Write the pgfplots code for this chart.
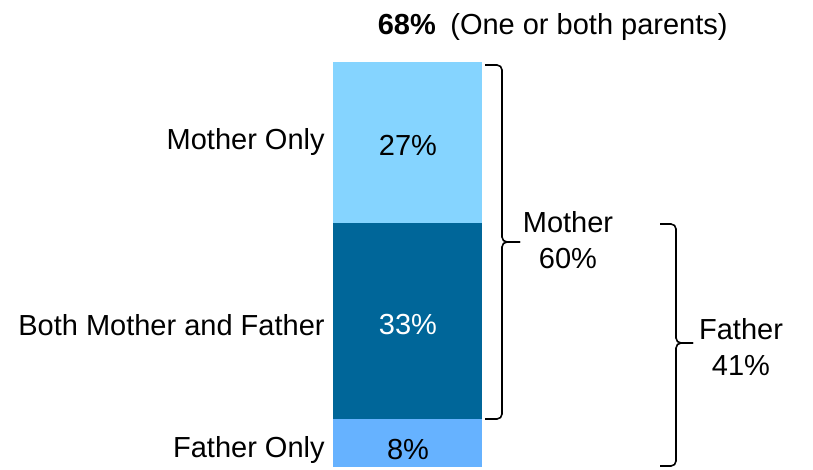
\documentclass[border=0pt]{standalone}
\usepackage{fontspec}
\setmainfont{Liberation Sans}
\usepackage{pgfplots}
\pgfplotsset{compat=1.18}
\definecolor{cMother}{HTML}{85D4FF}
\definecolor{cBoth}{HTML}{006699}
\definecolor{cFather}{HTML}{66B2FF}
\newcommand{\px}[2]{(axis cs:#1,{(467-#2)/5.956})}
\pgfplotsset{base/.style={
  scale only axis,
  width=406.5pt, height=234.5pt,
  xmin=0, xmax=813,
  ymin=-0.3358, ymax=78.408,
  hide axis, clip=false,
}}
\begin{document}
\begin{tikzpicture}[font=\fontsize{14.5}{17}\selectfont]
\begin{axis}[base,
  ybar stacked, bar width=149,
  every axis plot/.append style={draw=none},
]
\path (rel axis cs:0,0) rectangle (rel axis cs:1,1);
\addplot[fill=cFather] coordinates {(407.5,8)};
\addplot[fill=cBoth] coordinates {(407.5,33)};
\addplot[fill=cMother] coordinates {(407.5,27)};
\end{axis}
\begin{axis}[base]
% segment values
\node at \px{408}{145} {27\%};
\node[text=white] at \px{408}{325} {33\%};
\node at \px{408}{450} {8\%};
% category labels
\node[anchor=east, inner sep=0pt] at \px{325}{142} {Mother Only};
\node[anchor=east, inner sep=0pt] at \px{325}{325} {Both Mother and Father};
\node[anchor=east, inner sep=0pt] at \px{325}{450} {Father Only};
% title
\node[anchor=east, inner sep=0pt] at \px{728}{27} {\textbf{68\%}\hspace{0.5em}(One or both parents)};
% mother brace
\draw[line width=0.8pt, rounded corners=2.5pt] \px{485}{65} -- \px{502}{65} -- \px{502}{242} -- \px{520}{242};
\draw[line width=0.8pt, rounded corners=2.5pt] \px{485}{419} -- \px{502}{419} -- \px{502}{242} -- \px{520}{242};
\node[align=center, inner sep=0pt] at \px{568}{240} {Mother\\[1pt]60\%};
% father brace
\draw[line width=0.8pt, rounded corners=2.5pt] \px{660}{224} -- \px{676}{224} -- \px{676}{343} -- \px{693}{343};
\draw[line width=0.8pt, rounded corners=2.5pt] \px{660}{466} -- \px{676}{466} -- \px{676}{343} -- \px{693}{343};
\node[align=center, inner sep=0pt] at \px{741}{347} {Father\\[1pt]41\%};
\end{axis}
\end{tikzpicture}
\end{document}
